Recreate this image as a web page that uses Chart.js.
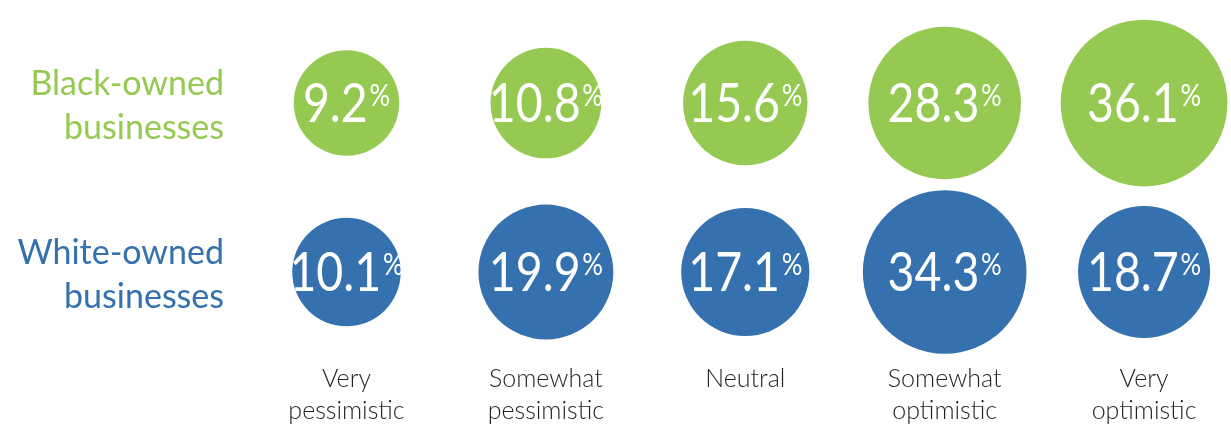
<!DOCTYPE html>
<html>
<head>
<meta charset="utf-8">
<script src="https://cdn.jsdelivr.net/npm/chart.js@4/dist/chart.umd.min.js"></script>
<style>
  html, body { margin: 0; padding: 0; background: #ffffff; overflow: hidden; }
  #wrap { width: 1231px; height: 431px; position: relative; }
</style>
</head>
<body>
<div id="wrap"><canvas id="c" width="1231" height="431"></canvas></div>
<script>
// ---- data ----
const categories = [
  ["Very", "pessimistic"],
  ["Somewhat", "pessimistic"],
  ["Neutral"],
  ["Somewhat", "optimistic"],
  ["Very", "optimistic"]
];
const groupLabels = [["Black-owned", "businesses"], ["White-owned", "businesses"]];
const blackOwned = [9.2, 10.8, 15.6, 28.3, 36.1];
const whiteOwned = [10.1, 19.9, 17.1, 34.3, 18.7];
const groupRows = [1, 0];

// ---- styles ----
const GREEN = '#95c951';
const BLUE = '#3471ae';
const TEXT = '#231f20';
const FONT = 'Lato, "Open Sans", sans-serif';

function radiusFor(v) { return 10.3 * Math.sqrt(v) + 21.5; }

const seriesValues = [blackOwned, whiteOwned];

const bubbleLabels = {
  id: 'bubbleLabels',
  afterDatasetsDraw(chart) {
    const ctx = chart.ctx;
    chart.data.datasets.forEach((ds, di) => {
      const meta = chart.getDatasetMeta(di);
      meta.data.forEach((el, j) => {
        const v = seriesValues[di][j];
        const num = v.toFixed(1);
        const numFont = '400 54px ' + FONT;
        const pctFont = '400 30px ' + FONT;
        const sx = 0.86;
        ctx.save();
        ctx.font = numFont;
        const wNum = ctx.measureText(num).width;
        ctx.font = pctFont;
        const wPct = ctx.measureText('%').width;
        const gap = 2;
        const total = (wNum + gap + wPct) * sx;
        const digitH = 54 * 0.72;
        const baseY = el.y + digitH / 2;
        ctx.translate(el.x - total / 2, baseY);
        ctx.scale(sx, 1);
        ctx.fillStyle = '#ffffff';
        ctx.textAlign = 'left';
        ctx.textBaseline = 'alphabetic';
        ctx.font = numFont;
        ctx.fillText(num, 0, 0);
        ctx.font = pctFont;
        ctx.fillText('%', wNum + gap, -digitH + 30 * 0.72 + 1);
        ctx.restore();
      });
    });
  }
};

const makeData = (vals, row) => vals.map((v, i) => ({ x: i, y: row }));

new Chart(document.getElementById('c'), {
  type: 'bubble',
  data: {
    datasets: [
      {
        label: groupLabels[0].join(' '),
        data: makeData(blackOwned, groupRows[0]),
        backgroundColor: GREEN,
        borderWidth: 0,
        radius: ctx => radiusFor(blackOwned[ctx.dataIndex]),
        clip: false
      },
      {
        label: groupLabels[1].join(' '),
        data: makeData(whiteOwned, groupRows[1]),
        backgroundColor: BLUE,
        borderWidth: 0,
        radius: ctx => radiusFor(whiteOwned[ctx.dataIndex]),
        clip: false
      }
    ]
  },
  options: {
    responsive: false,
    animation: false,
    events: [],
    devicePixelRatio: 1,
    layout: { padding: 0, autoPadding: false },
    plugins: { legend: { display: false }, tooltip: { enabled: false } },
    scales: {
      x: {
        type: 'linear',
        position: 'bottom',
        min: -0.504,
        max: 4.436,
        grid: { display: false, drawTicks: false },
        border: { display: false },
        afterBuildTicks: s => { s.ticks = categories.map((_, i) => ({ value: i })); },
        afterFit: s => {
          s.height = 77;
          s.paddingLeft = 0; s.paddingRight = 0; s.paddingTop = 0; s.paddingBottom = 0;
        },
        ticks: {
          autoSkip: false,
          maxRotation: 0,
          padding: 9,
          color: TEXT,
          font: { family: FONT, size: 25, weight: 300, lineHeight: 1.28 },
          callback: v => categories[v]
        }
      },
      y: {
        type: 'linear',
        position: 'left',
        min: -0.485,
        max: 1.6095,
        grid: { display: false, drawTicks: false },
        border: { display: false },
        afterBuildTicks: s => { s.ticks = groupRows.map(r => ({ value: r })); },
        afterFit: s => {
          s.width = 246;
          s.paddingLeft = 0; s.paddingRight = 0; s.paddingTop = 0; s.paddingBottom = 0;
        },
        ticks: {
          padding: 22,
          labelOffset: 3,
          color: ctx => (ctx.tick && ctx.tick.value === groupRows[0]) ? GREEN : BLUE,
          font: { family: FONT, size: 34, weight: 400, lineHeight: 1.32 },
          callback: v => groupLabels[groupRows.indexOf(v)]
        }
      }
    }
  },
  plugins: [bubbleLabels]
});
</script>
</body>
</html>
